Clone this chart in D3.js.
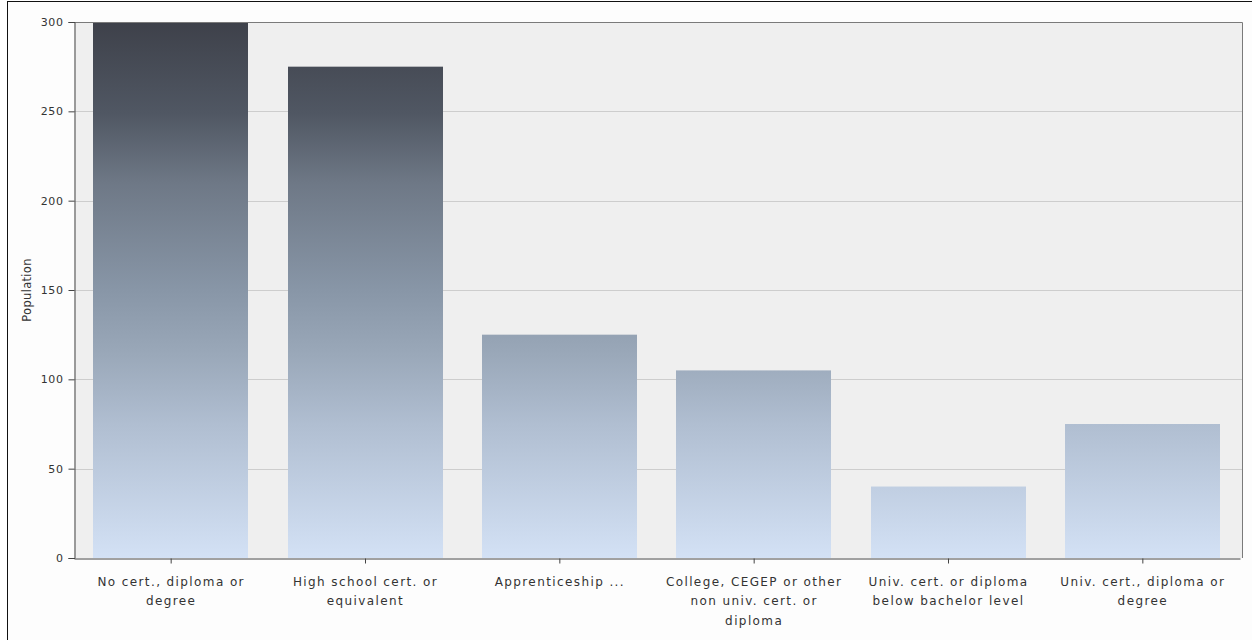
<!DOCTYPE html>
<html>
<head>
<meta charset="utf-8">
<script src="https://cdn.jsdelivr.net/npm/d3@7"></script>
<style>
  html, body { margin: 0; padding: 0; background: #fff; }
  svg { display: block; }
  text { font-family: "DejaVu Sans", Verdana, sans-serif; fill: #333; }
</style>
</head>
<body>
<svg id="chart" width="1252" height="640"></svg>
<script>
// Population by highest level of education
const categories = [
  "No cert., diploma or degree",
  "High school cert. or equivalent",
  "Apprenticeship ...",
  "College, CEGEP or other non univ. cert. or diploma",
  "Univ. cert. or diploma below bachelor level",
  "Univ. cert., diploma or degree"
];
const population = [300, 275, 125, 105, 40, 75];
const tickLines = [
  ["No cert., diploma or", "degree"],
  ["High school cert. or", "equivalent"],
  ["Apprenticeship ..."],
  ["College, CEGEP or other", "non univ. cert. or", "diploma"],
  ["Univ. cert. or diploma", "below bachelor level"],
  ["Univ. cert., diploma or", "degree"]
];
const yTicks = [0, 50, 100, 150, 200, 250, 300];
const yLabel = "Population";

const svg = d3.select("#chart");
const W = 1252, H = 640;
const plot = { left: 74, top: 22, right: 1242, bottom: 558 };

// outer frame
svg.append("rect").attr("x", 7.5).attr("y", 1.5).attr("width", W).attr("height", H)
  .attr("fill", "#fdfdfd").attr("stroke", "#111").attr("stroke-width", 1);

const x = d3.scaleBand().domain(categories)
  .range([plot.left, plot.right - 2]).paddingInner(0.2).paddingOuter(0.1);
const y = d3.scaleLinear().domain([0, 300]).range([plot.bottom, plot.top]);

// plot background
svg.append("rect").attr("x", plot.left).attr("y", plot.top)
  .attr("width", plot.right - plot.left).attr("height", plot.bottom - plot.top)
  .attr("fill", "#efefef");

// gridlines
svg.append("g").selectAll("line").data(yTicks.filter(d => d > 0 && d < 300)).join("line")
  .attr("x1", plot.left).attr("x2", plot.right)
  .attr("y1", d => Math.round(y(d)) + 0.5).attr("y2", d => Math.round(y(d)) + 0.5)
  .attr("stroke", "#cdcdcd").attr("stroke-width", 1);

// vertical gradient shared by all bars
const defs = svg.append("defs");
const grad = defs.append("linearGradient").attr("id", "barGrad")
  .attr("gradientUnits", "userSpaceOnUse")
  .attr("x1", 0).attr("x2", 0).attr("y1", plot.top).attr("y2", plot.bottom);
[
  [0, "#3e414a"],
  [0.17, "#505763"],
  [0.3, "#6e7886"],
  [0.5, "#8896a7"],
  [0.62, "#9aa8b9"],
  [0.75, "#b0bed1"],
  [1, "#d3e1f5"]
].forEach(([o, c]) => grad.append("stop").attr("offset", o).attr("stop-color", c));

svg.append("g").selectAll("rect").data(categories).join("rect")
  .attr("x", d => Math.round(x(d)))
  .attr("width", Math.round(x.bandwidth()))
  .attr("y", (d, i) => y(population[i]))
  .attr("height", (d, i) => y(0) - y(population[i]))
  .attr("fill", "url(#barGrad)");

// plot frame on top and right
svg.append("path")
  .attr("d", `M${plot.left},${plot.top + 0.5}H${plot.right + 0.5}V${plot.bottom}`)
  .attr("fill", "none").attr("stroke", "#7a7a7a").attr("stroke-width", 1);

// y axis
const yAxis = d3.axisLeft(y).tickValues(yTicks).tickSize(6).tickPadding(5);
const gy = svg.append("g").attr("transform", `translate(${plot.left + 0.5},0)`).call(yAxis);
gy.select(".domain").attr("stroke", "#444");
gy.selectAll(".tick line").attr("stroke", "#444");
gy.selectAll(".tick text").style("font-size", "11px").style("letter-spacing", "0.6px")
  .attr("fill", "#333").style("font-family", "'DejaVu Sans', sans-serif");

// x axis
const xAxis = d3.axisBottom(x).tickSize(5).tickSizeOuter(0).tickFormat("");
const gx = svg.append("g").attr("transform", `translate(0,${plot.bottom + 0.5})`).call(xAxis);
gx.select(".domain").attr("stroke", "#444");
gx.selectAll(".tick line").attr("stroke", "#444");
gx.selectAll(".tick").each(function (d, i) {
  const t = d3.select(this).append("text")
    .attr("text-anchor", "middle")
    .style("font-size", "12px")
    .style("letter-spacing", "1.4px")
    .attr("fill", "#333");
  tickLines[i].forEach((line, j) => {
    t.append("tspan").attr("x", 0).attr("y", 27 + j * 19.5).text(line);
  });
});

// y axis title
svg.append("text")
  .attr("transform", `translate(31,${(plot.top + plot.bottom) / 2}) rotate(-90)`)
  .attr("text-anchor", "middle")
  .style("font-size", "11.5px")
  .style("letter-spacing", "0.3px")
  .text(yLabel);
</script>
</body>
</html>
